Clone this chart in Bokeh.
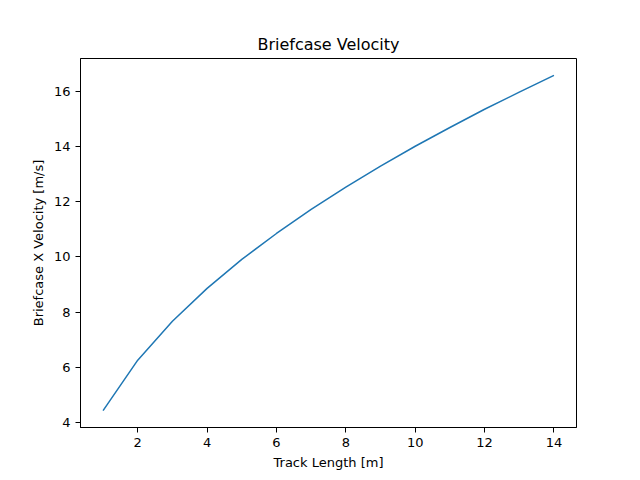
from bokeh.plotting import figure
from bokeh.embed import file_html
from bokeh.resources import INLINE

track_length = [1, 2, 3, 4, 5, 6, 7, 8, 9, 10, 11, 12, 13, 14]
velocity = [4.43, 6.26, 7.67, 8.86, 9.91, 10.85, 11.72, 12.53, 13.29, 14.01, 14.69, 15.35, 15.97, 16.58]

p = figure(width=640, height=480, title="Briefcase Velocity",
           x_range=(0.35, 14.65), y_range=(3.82, 17.19),
           x_axis_label="Track Length [m]", y_axis_label="Briefcase X Velocity [m/s]",
           output_backend="svg", toolbar_location=None,
           min_border_left=80, min_border_right=64, min_border_top=58, min_border_bottom=53)

p.line(track_length, velocity, line_width=1.5, color="#1f77b4")

p.xgrid.visible = False
p.ygrid.visible = False
p.outline_line_color = "black"
p.title.align = "center"
p.title.text_font = "DejaVu Sans"
p.title.text_font_size = "16px"
p.title.text_font_style = "normal"
p.title.text_color = "black"
p.xaxis.ticker = [2, 4, 6, 8, 10, 12, 14]
p.yaxis.ticker = [4, 6, 8, 10, 12, 14, 16]
for ax in (p.xaxis, p.yaxis):
    ax.axis_label_text_font = "DejaVu Sans"
    ax.axis_label_text_font_size = "13px"
    ax.axis_label_text_font_style = "normal"
    ax.axis_label_text_color = "black"
    ax.major_label_text_font = "DejaVu Sans"
    ax.major_label_text_font_size = "13px"
    ax.major_label_text_color = "black"
    ax.minor_tick_line_color = None
    ax.major_tick_in = 0
    ax.major_tick_out = 5
    ax.axis_line_color = "black"
    ax.major_tick_line_color = "black"

open("out.html", "w").write(file_html(p, INLINE))
